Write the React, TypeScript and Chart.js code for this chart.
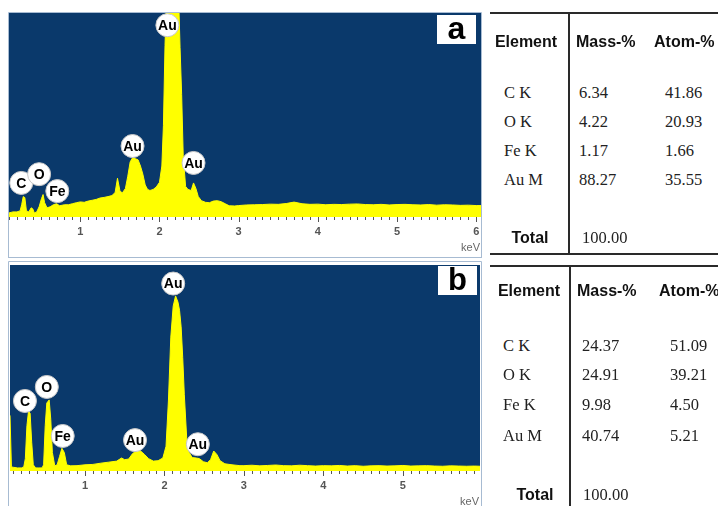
import React, { useEffect, useRef } from "react";
import { Chart, registerables } from "chart.js";
Chart.register(...registerables);

// ---------- Spectrum a ----------
const energyA = [
  0.10, 0.15, 0.20, 0.24, 0.26, 0.28, 0.30, 0.32, 0.35, 0.38, 0.40, 0.42, 0.45, 0.48, 0.51, 0.53, 0.55, 0.58,
  0.62, 0.66, 0.70, 0.74, 0.80, 0.85, 0.90, 0.95, 1.00, 1.05, 1.10, 1.15, 1.20, 1.25, 1.30, 1.35, 1.40, 1.44,
  1.47, 1.50, 1.53, 1.57, 1.60, 1.63, 1.66, 1.70, 1.73, 1.76, 1.79, 1.82, 1.85, 1.88, 1.92, 1.96, 2.00, 2.03,
  2.05, 2.07, 2.09, 2.12, 2.16, 2.20, 2.24, 2.26, 2.28, 2.30, 2.33, 2.36, 2.40, 2.43, 2.46, 2.49, 2.53, 2.58,
  2.63, 2.68, 2.73, 2.78, 2.83, 2.88, 2.95, 3.0, 3.1, 3.2, 3.3, 3.4, 3.5, 3.6, 3.7, 3.8, 3.9, 4.0, 4.1, 4.2,
  4.3, 4.4, 4.5, 4.6, 4.7, 4.8, 4.9, 5.0, 5.1, 5.2, 5.3, 5.4, 5.5, 5.6, 5.7, 5.8, 5.9, 6.0, 6.06,
];
const countsA = [
  2, 2.5, 2.5, 3, 6, 10, 9.5, 3, 2.5, 4.5, 4, 2, 2.5, 5, 9, 11, 7, 4.5,
  5, 6, 6.5, 5.5, 6, 6, 6.5, 7, 7.4, 7.2, 7.8, 8.2, 8.6, 9.3, 9.6, 10, 10.5, 12,
  19, 13, 11.7, 14, 20, 27, 29, 28.5, 28, 25, 21, 15.7, 13.5, 13, 13.5, 14.7, 17, 25,
  45, 84, 110, 110, 110, 110, 110, 83, 60, 30, 15, 13.5, 13, 16.7, 14, 10, 8, 7.2,
  7, 7.8, 8, 7.5, 6.5, 5.5, 5.4, 5.6, 5.9, 6.0, 6.1, 6.3, 6.2, 6.6, 7.3, 6.5, 6.2, 6.3, 6.0, 6.2,
  6.1, 6.3, 6.4, 6.1, 6.0, 6.2, 5.9, 6.1, 6.2, 6.0, 5.9, 6.1, 5.8, 6.0, 5.9, 5.7, 5.8, 5.6, 5.6,
];

// ---------- Spectrum b ----------
const energyB = [
  0.057, 0.065, 0.075, 0.10, 0.15, 0.20, 0.23, 0.25, 0.27, 0.29, 0.31, 0.33, 0.35, 0.38, 0.42, 0.46, 0.48, 0.50,
  0.52, 0.55, 0.57, 0.59, 0.62, 0.65, 0.68, 0.71, 0.74, 0.77, 0.82, 0.90, 1.00, 1.10, 1.20, 1.30, 1.40, 1.46,
  1.50, 1.55, 1.60, 1.65, 1.70, 1.75, 1.80, 1.86, 1.92, 1.98, 2.02, 2.05, 2.08, 2.11, 2.14, 2.17, 2.19, 2.21,
  2.23, 2.25, 2.28, 2.31, 2.35, 2.40, 2.44, 2.49, 2.54, 2.58, 2.62, 2.66, 2.70, 2.76, 2.85, 2.95, 3.0, 3.1,
  3.2, 3.3, 3.4, 3.5, 3.6, 3.7, 3.8, 3.9, 4.0, 4.1, 4.2, 4.3, 4.4, 4.5, 4.6, 4.7, 4.8, 4.9, 5.0, 5.1, 5.2,
  5.3, 5.4, 5.5, 5.6, 5.7, 5.8, 5.9, 5.97,
];
const countsB = [
  27, 27, 2, 1.8, 1.5, 1.5, 2, 6, 22, 29, 28, 14, 3, 1.5, 1.5, 1.5, 3, 22,
  33, 34.5, 25, 9, 2.5, 3, 7, 11, 9, 3, 2.5, 2.6, 3, 3.2, 3.8, 4.3, 4.8, 6.3,
  5.5, 5.8, 8.5, 9.7, 9.7, 8, 6, 4.8, 5, 6.3, 12, 34, 65, 80, 85, 82, 78, 70,
  55, 37, 16, 9, 6.5, 6.3, 6, 4.5, 4, 5.5, 9.7, 8, 5, 3.5, 3, 2.6, 2.6, 2.8,
  2.5, 2.7, 2.9, 2.6, 2.5, 2.8, 2.6, 2.4, 2.6, 2.5, 2.7, 2.4, 2.6, 2.3, 2.5, 2.6, 2.4, 2.5, 2.7, 2.4, 2.5,
  2.6, 2.4, 2.3, 2.5, 2.4, 2.3, 2.4, 2.3,
];

// ---------- Axis tick labels ----------
const tickLabelsA = ["1", "2", "3", "4", "5", "6"];
const tickLabelsB = ["1", "2", "3", "4", "5"];

// ---------- Peak annotations ----------
const peakNamesA = ["C", "O", "Fe", "Au", "Au", "Au"];
const peakEnergyA = [0.255, 0.48, 0.71, 1.66, 2.1, 2.43];
const peakLevelA = [16.7, 21, 12.7, 34.8, 94, 26.5];

const peakNamesB = ["C", "O", "Fe", "Au", "Au", "Au"];
const peakEnergyB = [0.245, 0.52, 0.72, 1.63, 2.11, 2.42];
const peakLevelB = [34, 40.8, 17, 15, 91, 13];

// ---------- Tables ----------
const elementNames = ["C K", "O K", "Fe K", "Au M"];
const massA = ["6.34", "4.22", "1.17", "88.27"];
const atomA = ["41.86", "20.93", "1.66", "35.55"];
const massB = ["24.37", "24.91", "9.98", "40.74"];
const atomB = ["51.09", "39.21", "4.50", "5.21"];
const totalMass = "100.00";

const BLUE = "#0a396b";
const YELLOW = "#ffff00";
const SANS = "'Liberation Sans', Arial, sans-serif";
const SERIF = "'Liberation Serif', 'Times New Roman', serif";

type PanelProps = {
  left: number;
  top: number;
  width: number;
  height: number;
  pad: { left: number; right: number; top: number; bottom: number };
  xMin: number;
  xMax: number;
  energy: number[];
  counts: number[];
  tickLabels: string[];
  names: string[];
  peakE: number[];
  peakL: number[];
  letter: string;
  letterFont: number;
  boxRight: number;
  boxTop: number;
  bottomBorder: boolean;
};

function Panel(p: PanelProps) {
  const ref = useRef<HTMLCanvasElement | null>(null);
  useEffect(() => {
    const canvas = ref.current!;
    const plugin = {
      id: "panelDeco",
      beforeDraw(chart: any) {
        const { ctx, chartArea: ca, width, height } = chart;
        ctx.save();
        ctx.fillStyle = "#ffffff";
        ctx.fillRect(0, 0, width, height);
        ctx.fillStyle = BLUE;
        ctx.fillRect(ca.left, ca.top, ca.right - ca.left, ca.bottom - ca.top);
        ctx.strokeStyle = "#a7bbd2";
        ctx.lineWidth = 1;
        ctx.beginPath();
        ctx.moveTo(0.5, height);
        ctx.lineTo(0.5, 0.5);
        ctx.lineTo(width - 0.5, 0.5);
        ctx.lineTo(width - 0.5, height);
        if (p.bottomBorder) {
          ctx.moveTo(0.5, height - 0.5);
          ctx.lineTo(width - 0.5, height - 0.5);
        }
        ctx.stroke();
        ctx.restore();
      },
      afterDatasetsDraw(chart: any) {
        const { ctx, chartArea: ca } = chart;
        const xs = chart.scales.x;
        const ys = chart.scales.y;
        ctx.save();
        // peak labels
        for (let i = 0; i < p.names.length; i++) {
          const cx = xs.getPixelForValue(p.peakE[i]);
          const cy = ys.getPixelForValue(p.peakL[i]);
          ctx.beginPath();
          ctx.arc(cx, cy, 11.5, 0, Math.PI * 2);
          ctx.fillStyle = "#ffffff";
          ctx.fill();
          ctx.strokeStyle = "#c8c8c8";
          ctx.lineWidth = 1;
          ctx.stroke();
          ctx.fillStyle = "#000000";
          ctx.font = `bold 14px ${SANS}`;
          ctx.textAlign = "center";
          ctx.textBaseline = "middle";
          ctx.fillText(p.names[i], cx, cy + 1);
        }
        // letter box
        const bw = 39;
        const bh = 29;
        const bx = ca.right - p.boxRight - bw;
        const by = ca.top + p.boxTop;
        ctx.fillStyle = "#ffffff";
        ctx.fillRect(bx, by, bw, bh);
        ctx.fillStyle = "#000000";
        ctx.font = `bold ${p.letterFont}px ${SANS}`;
        ctx.textAlign = "center";
        ctx.textBaseline = "alphabetic";
        ctx.fillText(p.letter, bx + bw / 2, by + bh - 5);
        ctx.restore();
      },
      afterDraw(chart: any) {
        const { ctx, chartArea: ca } = chart;
        const xs = chart.scales.x;
        ctx.save();
        ctx.strokeStyle = "#555555";
        ctx.lineWidth = 1;
        ctx.beginPath();
        const start = Math.ceil(p.xMin * 10);
        const end = Math.floor(p.xMax * 10);
        for (let k = start; k <= end; k++) {
          const x = Math.round(xs.getPixelForValue(k / 10)) + 0.5;
          const len = k % 10 === 0 ? 5 : 3;
          ctx.moveTo(x, ca.bottom);
          ctx.lineTo(x, ca.bottom + len);
        }
        ctx.stroke();
        ctx.fillStyle = "#555555";
        ctx.font = `bold 11px ${SANS}`;
        ctx.textAlign = "center";
        ctx.textBaseline = "middle";
        p.tickLabels.forEach((t) => {
          ctx.fillText(t, xs.getPixelForValue(Number(t)), ca.bottom + 15);
        });
        ctx.font = `11px ${SANS}`;
        ctx.fillStyle = "#666666";
        ctx.textAlign = "right";
        ctx.fillText("keV", ca.right - 1, ca.bottom + 31);
        ctx.restore();
      },
    };
    const chart = new Chart(canvas, {
      type: "line",
      data: {
        datasets: [
          {
            data: p.energy.map((e, i) => ({ x: e, y: p.counts[i] })),
            borderColor: YELLOW,
            backgroundColor: YELLOW,
            borderWidth: 1,
            pointRadius: 0,
            fill: "origin",
            tension: 0,
          },
        ],
      },
      options: {
        responsive: false,
        animation: false,
        devicePixelRatio: 1,
        layout: { padding: p.pad },
        plugins: { legend: { display: false }, tooltip: { enabled: false }, title: { display: false } },
        scales: {
          x: { type: "linear", min: p.xMin, max: p.xMax, display: false },
          y: { min: 0, max: 100, display: false },
        },
      },
      plugins: [plugin],
    } as any);
    return () => chart.destroy();
  }, []);
  return (
    <canvas
      ref={ref}
      width={p.width}
      height={p.height}
      style={{ position: "absolute", left: p.left, top: p.top, width: p.width, height: p.height }}
    />
  );
}

type TableProps = {
  top: number;
  bottom: number | null;
  vx: number;
  vBottom: number;
  headerY: number;
  elementCenter: number;
  massHeadX: number;
  atomHeadX: number;
  rowYs: number[];
  labelX: number;
  massX: number;
  atomX: number;
  mass: string[];
  atom: string[];
  totalY: number;
  totalCenter: number;
  totalValX: number;
};

function Txt(props: { x: number; y: number; text: string; bold?: boolean; serif?: boolean; center?: boolean }) {
  const size = props.serif ? 16.5 : 16;
  const style: React.CSSProperties = {
    position: "absolute",
    top: props.y - 10,
    height: 20,
    lineHeight: "20px",
    fontSize: size,
    fontFamily: props.serif ? SERIF : SANS,
    fontWeight: props.bold ? "bold" : "normal",
    color: props.serif ? "#222" : "#111",
    whiteSpace: "nowrap",
  };
  if (props.center) {
    style.left = props.x - 60;
    style.width = 120;
    style.textAlign = "center";
  } else {
    style.left = props.x;
  }
  return <div style={style}>{props.text}</div>;
}

function DataTable(t: TableProps) {
  return (
    <>
      <div style={{ position: "absolute", left: 490, top: t.top - 1, width: 228, height: 2, background: "#2a2a2a" }} />
      {t.bottom !== null && (
        <div style={{ position: "absolute", left: 490, top: t.bottom - 1, width: 228, height: 2, background: "#2a2a2a" }} />
      )}
      <div style={{ position: "absolute", left: t.vx - 1, top: t.top, width: 2, height: t.vBottom - t.top, background: "#2a2a2a" }} />
      <Txt x={t.elementCenter} y={t.headerY} text="Element" bold center />
      <Txt x={t.massHeadX} y={t.headerY} text="Mass-%" bold />
      <Txt x={t.atomHeadX} y={t.headerY} text="Atom-%" bold />
      {elementNames.map((n, i) => (
        <React.Fragment key={n}>
          <Txt x={t.labelX} y={t.rowYs[i]} text={n} serif />
          <Txt x={t.massX} y={t.rowYs[i]} text={t.mass[i]} serif />
          <Txt x={t.atomX} y={t.rowYs[i]} text={t.atom[i]} serif />
        </React.Fragment>
      ))}
      <Txt x={t.totalCenter} y={t.totalY} text="Total" bold center />
      <Txt x={t.totalValX} y={t.totalY} text={totalMass} serif />
    </>
  );
}

export default function App() {
  return (
    <div
      style={{
        position: "fixed",
        left: 0,
        top: 0,
        width: 718,
        height: 506,
        background: "#ffffff",
        overflow: "hidden",
      }}
    >
      <Panel
        left={8}
        top={12}
        width={474}
        height={246}
        pad={{ left: 1, right: 1, top: 1, bottom: 41 }}
        xMin={0.1}
        xMax={6.06}
        energy={energyA}
        counts={countsA}
        tickLabels={tickLabelsA}
        names={peakNamesA}
        peakE={peakEnergyA}
        peakL={peakLevelA}
        letter="a"
        letterFont={32}
        boxRight={5}
        boxTop={2}
        bottomBorder={true}
      />
      <Panel
        left={8}
        top={261}
        width={474}
        height={245}
        pad={{ left: 2, right: 2, top: 4, bottom: 35 }}
        xMin={0.057}
        xMax={5.97}
        energy={energyB}
        counts={countsB}
        tickLabels={tickLabelsB}
        names={peakNamesB}
        peakE={peakEnergyB}
        peakL={peakLevelB}
        letter="b"
        letterFont={31}
        boxRight={3}
        boxTop={1}
        bottomBorder={false}
      />
      <DataTable
        top={13}
        bottom={254}
        vx={569}
        vBottom={254}
        headerY={42}
        elementCenter={526}
        massHeadX={576}
        atomHeadX={654}
        rowYs={[93, 122, 151, 180]}
        labelX={504}
        massX={579}
        atomX={665}
        mass={massA}
        atom={atomA}
        totalY={238}
        totalCenter={530}
        totalValX={582}
      />
      <DataTable
        top={266}
        bottom={null}
        vx={570}
        vBottom={506}
        headerY={291}
        elementCenter={529}
        massHeadX={577}
        atomHeadX={659}
        rowYs={[346, 375, 405, 436]}
        labelX={503}
        massX={582}
        atomX={670}
        mass={massB}
        atom={atomB}
        totalY={495}
        totalCenter={535}
        totalValX={583}
      />
    </div>
  );
}
